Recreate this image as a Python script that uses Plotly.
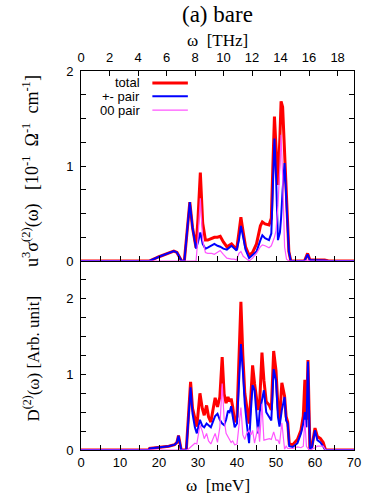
import plotly.graph_objects as go

# ---- top panel: optical conductivity u^3 sigma^(2)(omega) ----
x_top = [0, 17.5, 20, 22.5, 23.8, 24.6, 25.3, 25.8, 26.5, 27.0,
         27.9, 28.6, 29.5, 30.0, 30.6, 31.2, 31.9, 32.5, 33.5, 34.2,
         35.0, 35.7, 36.5, 37.4, 38.6, 39.3, 39.9, 40.5, 41.0, 41.6,
         42.2, 43.1, 44.0, 45.0, 46.0, 46.5, 47.2, 48.2, 48.8, 49.2,
         49.6, 50.0, 50.5, 51.0, 51.3, 51.7, 52.2, 52.7, 53.3, 53.8,
         57.3, 58.1, 58.7, 62.5, 63.5, 70]
tot_top = [0, 0, 0.045, 0.09, 0.105, 0.09, 0.04, 0, 0, 0.2,
           0.62, 0.35, 0.14, 0.45, 0.93, 0.40, 0.22, 0.22, 0.24, 0.25,
           0.25, 0.26, 0.20, 0.15, 0.18, 0.15, 0.12, 0.30, 0.46, 0.30,
           0.15, 0.06, 0.09, 0.18, 0.37, 0.41, 0.39, 0.38, 0.45, 1.0,
           1.52, 1.2, 0.80, 1.3, 1.68, 1.62, 1.18, 0.62, 0.1, 0,
           0, 0.08, 0.01, 0.01, 0, 0]
pm_top = [0, 0, 0.045, 0.09, 0.105, 0.09, 0.04, 0, 0, 0.2,
          0.62, 0.35, 0.13, 0.20, 0.30, 0.18, 0.13, 0.14, 0.16, 0.18,
          0.16, 0.15, 0.13, 0.12, 0.16, 0.13, 0.11, 0.22, 0.37, 0.25,
          0.12, 0.03, 0.06, 0.10, 0.22, 0.27, 0.24, 0.22, 0.29, 0.80,
          1.29, 0.90, 0.22, 0.30, 0.45, 0.75, 1.03, 0.60, 0.10, 0,
          0, 0.07, 0.01, 0.005, 0, 0]
zz_top = [0, 0, 0, 0, 0, 0, 0, 0, 0, 0,
          0, 0, 0, 0.25, 0.66, 0.22, 0.09, 0.08, 0.08, 0.07,
          0.09, 0.11, 0.07, 0.03, 0.02, 0.02, 0.01, 0.08, 0.10, 0.05,
          0.03, 0, 0.03, 0.08, 0.15, 0.17, 0.16, 0.14, 0.16, 0.2,
          0.25, 0.32, 0.58, 1.0, 1.33, 0.9, 0.15, 0.02, 0, 0,
          0, 0.01, 0, 0, 0, 0]

# ---- bottom panel: D^(2)(omega) ----
x_bot = [0, 17.4, 17.6, 20, 22.5, 24.0, 24.6, 25.0, 25.4, 25.7,
         27.0, 27.5, 28.1, 28.6, 29.2, 29.7, 30.5, 31.1, 31.6, 32.2,
         32.7, 33.3, 33.8, 34.4, 35.0, 35.6, 36.2, 36.7, 37.2, 37.7,
         38.1, 38.5, 38.9, 39.4, 40.0, 40.5, 41.0, 41.5, 42.0, 42.5,
         43.1, 43.6, 44.0, 44.5, 45.0, 45.4, 45.8, 46.4, 46.9, 47.5,
         48.3, 48.8, 49.4, 50.0, 50.5, 50.9, 51.5, 52.2, 52.6, 53.0,
         53.4, 54.3, 55.5, 56.4, 57.0, 57.4, 57.8, 58.2, 58.7, 59.2,
         60.0, 60.6, 61.4, 62.1, 62.7, 70]
tot_bot = [0, 0, 0.02, 0.03, 0.05, 0.07, 0.10, 0.19, 0.05, 0,
           0, 0.42, 0.90, 0.55, 0.42, 0.31, 0.75, 0.55, 0.46, 0.59,
           0.44, 0.37, 0.52, 0.69, 0.57, 0.70, 1.23, 0.74, 0.62, 0.70,
           0.64, 0.68, 0.57, 0.37, 0.44, 1.20, 1.96, 1.25, 0.75, 0.57,
           0.35, 0.75, 1.12, 0.88, 0.70, 0.53, 0.61, 1.29, 0.92, 0.64,
           0.59, 0.53, 1.31, 1.05, 0.57, 0.39, 0.89, 0.71, 0.44, 0.37,
           0.08, 0.07, 0.14, 0.26, 0.45, 0.93, 0.40, 1.19, 0, 0.04,
           0.29, 0.18, 0.15, 0.10, 0, 0]
pm_bot = [0, 0, 0.02, 0.03, 0.05, 0.07, 0.10, 0.19, 0.05, 0,
          0, 0.40, 0.83, 0.48, 0.30, 0.22, 0.40, 0.32, 0.30, 0.35,
          0.33, 0.30, 0.37, 0.45, 0.48, 0.40, 0.35, 0.33, 0.40, 0.52,
          0.50, 0.58, 0.45, 0.30, 0.35, 0.90, 1.40, 1.05, 0.61, 0.35,
          0.09, 0.55, 0.86, 0.79, 0.48, 0.22, 0.50, 0.68, 0.79, 0.50,
          0.44, 0.39, 1.07, 0.92, 0.44, 0.31, 0.53, 0.70, 0.39, 0.35,
          0.05, 0.04, 0.09, 0.22, 0.35, 0.50, 0.30, 1.17, 0, 0.03,
          0.26, 0.13, 0.10, 0.05, 0, 0]
zz_bot = [0, 0, 0, 0, 0, 0, 0, 0, 0, 0,
          0, 0.01, 0.04, 0.06, 0.09, 0.08, 0.33, 0.25, 0.15, 0.22,
          0.12, 0.08, 0.15, 0.22, 0.10, 0.30, 0.88, 0.41, 0.22, 0.18,
          0.14, 0.10, 0.12, 0.07, 0.08, 0.30, 0.56, 0.20, 0.14, 0.22,
          0.26, 0.20, 0.26, 0.09, 0.22, 0.31, 0.11, 0.61, 0.13, 0.14,
          0.15, 0.14, 0.24, 0.13, 0.13, 0.08, 0.36, 0.01, 0.05, 0.02,
          0.02, 0.02, 0.04, 0.03, 0.05, 0.40, 0.05, 0.02, 0, 0.01,
          0.03, 0.05, 0.05, 0.05, 0, 0]

series_names = ['total', '+- pair', '00 pair']
series_colors = ['#ff0000', '#0000ff', '#ff55ff']
series_widths = [3, 2, 1.2]

SANS = 'Liberation Sans, Arial, sans-serif'
SERIF = 'Liberation Serif, Times New Roman, serif'

fig = go.Figure()

top_sets = [tot_top, pm_top, zz_top]
bot_sets = [tot_bot, pm_bot, zz_bot]
for i in range(3):
    fig.add_trace(go.Scatter(x=x_top, y=top_sets[i], mode='lines', name=series_names[i],
                             line=dict(color=series_colors[i], width=series_widths[i]),
                             xaxis='x', yaxis='y', showlegend=False))
    fig.add_trace(go.Scatter(x=x_bot, y=bot_sets[i], mode='lines', name=series_names[i],
                             line=dict(color=series_colors[i], width=series_widths[i]),
                             xaxis='x2', yaxis='y2', showlegend=False))

# dummy trace so the THz axis gets drawn
fig.add_trace(go.Scatter(x=[0, 19.15], y=[None, None], mode='lines', xaxis='x3', yaxis='y',
                         showlegend=False, hoverinfo='skip'))

# legend, drawn by hand (text right, sample line to the right)
leg_y = [1.874, 1.733, 1.589]
for i in range(3):
    fig.add_annotation(x=15.7, y=leg_y[i], xref='x', yref='y', text=series_names[i],
                       showarrow=False, xanchor='right', yanchor='middle',
                       font=dict(family=SANS, size=13, color='black'))
    fig.add_shape(type='line', xref='x', yref='y', x0=18.3, x1=27.4, y0=leg_y[i], y1=leg_y[i],
                  line=dict(color=series_colors[i], width=series_widths[i]))

split = 189 / 379
axis_common = dict(showgrid=False, zeroline=False, showline=True, linecolor='black',
                   linewidth=1, ticks='inside', ticklen=5, tickcolor='black',
                   tickfont=dict(family=SANS, size=13, color='black'))

mev_ticks = list(range(0, 71, 5))
mev_text = [str(v) if v % 10 == 0 else ' ' for v in mev_ticks]
thz_ticks = list(range(0, 19, 2))
ytop_ticks = [i * 0.25 for i in range(9)]
ybot_ticks = [i * 0.25 for i in range(11)]


def ylab(v):
    return str(int(v)) if v == int(v) else ' '


fig.update_layout(
    width=373, height=498,
    margin=dict(l=81, r=16, t=71, b=48),
    paper_bgcolor='white', plot_bgcolor='white',
    xaxis=dict(axis_common, domain=[0, 1], range=[0, 70], anchor='y',
               tickvals=mev_ticks, showticklabels=False),
    xaxis3=dict(axis_common, range=[0, 19.15], overlaying='x', side='top', anchor='y',
                tickvals=thz_ticks, ticklabelstandoff=3),
    yaxis=dict(axis_common, domain=[split, 1], range=[0, 2], anchor='x',
               tickvals=ytop_ticks, ticktext=[ylab(v) for v in ytop_ticks],
               mirror='ticks', ticklabelstandoff=4),
    xaxis2=dict(axis_common, domain=[0, 1], range=[0, 70], anchor='y2',
                tickvals=mev_ticks, ticktext=mev_text),
    yaxis2=dict(axis_common, domain=[0, split], range=[0, 2.5], anchor='x2',
                tickvals=ybot_ticks, ticktext=[ylab(v) for v in ybot_ticks],
                mirror='ticks', ticklabelstandoff=4),
    showlegend=False,
)

fig.add_annotation(text='(a) bare', xref='paper', yref='paper', x=0.5, y=1, yshift=57,
                   xanchor='center', yanchor='middle', showarrow=False,
                   font=dict(family=SERIF, size=23, color='black'))
fig.add_annotation(text='ω&nbsp;&nbsp;[THz]', xref='paper', yref='paper', x=0.5, y=1, yshift=31,
                   xanchor='center', yanchor='middle', showarrow=False,
                   font=dict(family=SERIF, size=17, color='black'))
fig.add_annotation(text='ω&nbsp;&nbsp;[meV]', xref='paper', yref='paper', x=0.5, y=0, yshift=-35,
                   xanchor='center', yanchor='middle', showarrow=False,
                   font=dict(family=SERIF, size=17, color='black'))
fig.add_annotation(text='u<sup>3</sup>σ<sup>(2)</sup>(ω)&nbsp;&nbsp;&nbsp;[10<sup>-1</sup>&nbsp;&nbsp;Ω<sup>-1</sup>&nbsp;&nbsp;cm<sup>-1</sup>]',
                   xref='paper', yref='paper', x=0, xshift=-50, y=(1 + split) / 2, yshift=-5,
                   xanchor='center', yanchor='middle', textangle=-90, showarrow=False,
                   font=dict(family=SERIF, size=18, color='black'))
fig.add_annotation(text='D<sup>(2)</sup>(ω) [Arb. unit]',
                   xref='paper', yref='paper', x=0, xshift=-50, y=split / 2, yshift=-3,
                   xanchor='center', yanchor='middle', textangle=-90, showarrow=False,
                   font=dict(family=SERIF, size=17, color='black'))

# the page body has an 8px margin by default; drop it so the figure sits at 0,0
fig.write_html('out.html', config={'displayModeBar': False},
               post_script="document.body.style.margin='0px';")
